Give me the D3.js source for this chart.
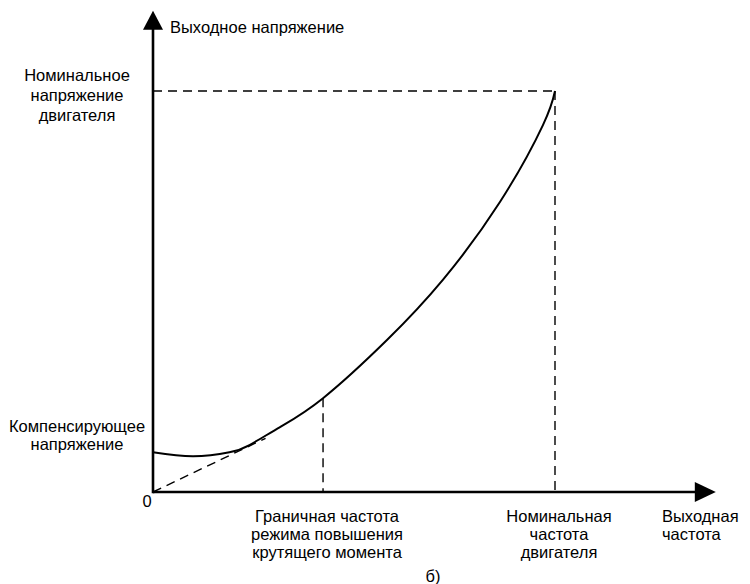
<!DOCTYPE html>
<html>
<head>
<meta charset="utf-8">
<script src="https://cdn.jsdelivr.net/npm/d3@7"></script>
<style>
  body { margin: 0; background: #fff; }
  text { font-family: "Liberation Sans", Arial, sans-serif; fill: #000; }
</style>
</head>
<body>
<div id="chart"></div>
<script>
// curve, % of nominal frequency / nominal voltage
var freq    = [0, 10, 19, 24, 31.6, 42.3, 58.2, 72.1, 86.3, 97, 100];
var voltage = [9.9, 8.9, 9.9, 11.7, 16.2, 23.4, 37.9, 52.9, 72.3, 91.5, 100];

// dashed V/f line from origin until it meets the curve
var linearFreq = [0, 28];
var linearVolt = [0, 13.4];

var boostFreq = 42.3;     // torque boost limit
var nominalFreq = 100;
var nominalVolt = 100;
var axisEnd = { x: 140, y: 120 };

var yLabels = [
  { v: nominalVolt, lines: ['Номинальное', 'напряжение', 'двигателя'] },
  { v: 9.9, lines: ['Компенсирующее', 'напряжение'] }
];
var xLabels = [
  { f: boostFreq, lines: ['Граничная частота', 'режима повышения', 'крутящего момента'] },
  { f: nominalFreq, lines: ['Номинальная', 'частота', 'двигателя'] }
];

var width = 750, height = 584;

var svg = d3.select('#chart').append('svg')
   .attr('width', width)
   .attr('height', height);

var x = d3.scaleLinear().domain([0, 100]).range([153, 555]);
var y = d3.scaleLinear().domain([0, 100]).range([492, 91]);

// dashed helper lines
var dash = '9,6';
function dashed(x1, y1, x2, y2) {
   svg.append('line')
      .attr('x1', x1).attr('y1', y1)
      .attr('x2', x2).attr('y2', y2)
      .attr('stroke', '#000')
      .attr('stroke-width', 1.4)
      .attr('stroke-dasharray', dash);
}
dashed(x(0), y(nominalVolt), x(nominalFreq), y(nominalVolt));
dashed(x(nominalFreq), y(nominalVolt), x(nominalFreq), y(0));

var boostVolt = voltage[freq.indexOf(boostFreq)];
dashed(x(boostFreq), y(boostVolt), x(boostFreq), y(0));
dashed(x(linearFreq[0]), y(linearVolt[0]), x(linearFreq[1]), y(linearVolt[1]));

// main curve
var pts = freq.map(function(f, i) { return [f, voltage[i]]; });
var line = d3.line()
   .x(function(d) { return x(d[0]); })
   .y(function(d) { return y(d[1]); })
   .curve(d3.curveNatural);

svg.append('path')
   .attr('d', line(pts))
   .attr('fill', 'none')
   .attr('stroke', '#000')
   .attr('stroke-width', 2);

// axes with arrow heads
var x0 = x(0), y0 = y(0);
var xTip = x(axisEnd.x), yTip = y(axisEnd.y);

svg.append('line')
   .attr('x1', x0).attr('y1', y0)
   .attr('x2', xTip - 10).attr('y2', y0)
   .attr('stroke', '#000').attr('stroke-width', 2.6);
svg.append('line')
   .attr('x1', x0).attr('y1', y0 + 1.3)
   .attr('x2', x0).attr('y2', yTip + 10)
   .attr('stroke', '#000').attr('stroke-width', 2.6);

svg.append('path')
   .attr('d', 'M' + xTip + ',' + y0 + 'L' + (xTip - 21) + ',' + (y0 - 10) +
              'L' + (xTip - 21) + ',' + (y0 + 10) + 'Z')
   .attr('fill', '#000');
svg.append('path')
   .attr('d', 'M' + x0 + ',' + yTip + 'L' + (x0 - 10) + ',' + (yTip + 19) +
              'L' + (x0 + 10) + ',' + (yTip + 19) + 'Z')
   .attr('fill', '#000');

// texts
var fs = 16.5;
function block(cx, baseY, lines, anchor, step) {
   var t = svg.append('text')
      .attr('text-anchor', anchor || 'middle')
      .attr('font-size', fs);
   lines.forEach(function(s, i) {
      t.append('tspan')
         .attr('x', cx)
         .attr('y', baseY + i * step)
         .text(s);
   });
}

svg.append('text')
   .attr('x', x0 + 17)
   .attr('y', yTip + 22)
   .attr('font-size', fs)
   .text('Выходное напряжение');

block(77, y(yLabels[0].v) - 10, yLabels[0].lines, 'middle', 20);
block(77, y(yLabels[1].v) - 20, yLabels[1].lines, 'middle', 18);

svg.append('text')
   .attr('x', x0 - 6)
   .attr('y', y0 + 15)
   .attr('text-anchor', 'middle')
   .attr('font-size', fs)
   .text('0');

xLabels.forEach(function(d) {
   block(x(d.f) + 4, y0 + 30, d.lines, 'middle', 18);
});
block(662, y0 + 30, ['Выходная', 'частота'], 'start', 18);

svg.append('text')
   .attr('x', 433)
   .attr('y', 582)
   .attr('text-anchor', 'middle')
   .attr('font-size', fs)
   .text('б)');
</script>
</body>
</html>
